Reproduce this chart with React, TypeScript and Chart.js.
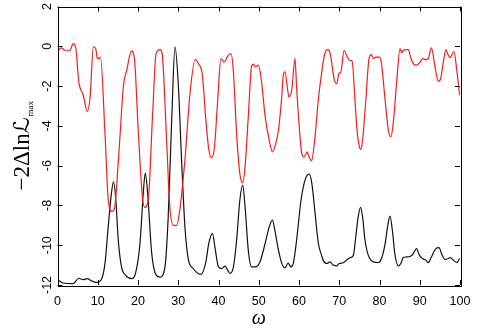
import React, { useEffect, useRef } from "react";
import { Chart, registerables } from "chart.js";

Chart.register(...registerables);

const xTickValues = [0, 10, 20, 30, 40, 50, 60, 70, 80, 90, 100];
const yTickValues = [-12, -10, -8, -6, -4, -2, 0, 2];
const xTitle = "ω";
const yTitleMain = "−2Δln";
const yTitleL = "ℒ";
const yTitleSub = "max";

const redOmega = [0.2, 0.9, 1.9, 3.1, 3.9, 4.5, 5.3, 6.4, 7.4, 8.1, 8.9, 9.5, 9.9, 10.7, 11.8, 12.6, 13.5, 14.1, 15.3, 16.4, 17.2, 18.4, 19.1, 20.1, 21.1, 21.7, 22.6, 23.6, 24.5, 25.5, 26.0, 27.1, 27.9, 28.8, 29.6, 30.4, 31.7, 32.9, 34.2, 35.0, 36.0, 36.8, 37.6, 38.3, 39.0, 39.8, 40.6, 41.4, 42.3, 43.1, 43.7, 44.5, 45.3, 46.0, 46.6, 47.4, 48.2, 48.7, 49.2, 49.9, 50.6, 51.6, 52.6, 53.4, 54.0, 54.9, 55.7, 56.1, 56.5, 57.2, 57.5, 58.2, 59.0, 59.4, 60.0, 60.7, 61.3, 62.0, 62.5, 63.1, 63.9, 64.8, 65.6, 66.3, 67.0, 67.5, 68.1, 68.7, 69.4, 69.9, 70.4, 71.2, 71.8, 72.5, 73.2, 73.9, 74.5, 75.0, 75.3, 75.8, 76.6, 77.4, 78.0, 78.5, 79.1, 80.1, 80.5, 81.4, 82.2, 82.8, 83.4, 84.3, 85.1, 85.5, 85.9, 86.6, 87.2, 87.7, 88.4, 89.2, 90.1, 90.7, 91.5, 92.1, 92.9, 93.8, 94.6, 95.2, 95.8, 96.5, 97.1, 97.6, 98.5, 99.2, 99.9];
const redValues = [-0.2, -0.08, -0.2, -0.2, 0.13, -0.03, -1.8, -2.46, -3.27, -2.55, -0.03, -0.12, -0.62, -0.57, -4.4, -7.7, -8.3, -8.2, -5.2, -1.96, -1.2, -0.23, -0.6, -4.4, -7.6, -8.1, -7.6, -3.55, -0.37, -0.17, -0.37, -4.7, -8.07, -9.0, -9.0, -8.2, -5.6, -2.4, -0.67, -0.87, -1.46, -3.55, -5.2, -5.6, -5.06, -2.7, -0.62, -0.79, -0.5, -0.37, -1.29, -4.39, -6.4, -6.87, -6.06, -3.55, -1.04, -0.9, -1.04, -0.95, -1.62, -3.55, -4.72, -5.31, -5.06, -4.22, -2.55, -1.46, -1.29, -2.21, -2.55, -2.21, -0.62, -2.04, -3.89, -5.4, -5.56, -5.31, -5.56, -5.76, -4.72, -2.7, -1.37, -0.45, -0.17, -0.2, -0.79, -1.62, -1.88, -1.37, -1.29, -0.2, -0.45, -0.7, -0.75, -2.71, -4.39, -5.06, -5.19, -4.72, -2.71, -0.62, -0.42, -0.62, -0.54, -0.54, -0.87, -2.71, -4.22, -4.56, -3.89, -1.71, -0.12, -0.33, -0.2, -0.17, -0.17, -0.54, -0.87, -0.95, -0.79, -0.62, -0.67, -0.62, -0.08, -1.04, -1.76, -1.62, -0.87, -0.17, -0.45, -0.57, -0.25, -1.21, -2.46];

const blackOmega = [0.2, 1.4, 3.9, 5.3, 6.4, 7.4, 8.5, 9.7, 11.0, 11.8, 12.6, 13.3, 13.9, 14.5, 15.1, 15.9, 16.9, 18.4, 19.4, 20.5, 21.3, 21.8, 22.4, 23.4, 24.5, 25.5, 26.7, 27.5, 28.4, 29.2, 30.0, 30.9, 31.7, 32.5, 33.7, 35.6, 36.8, 37.6, 38.5, 39.1, 40.0, 40.8, 41.6, 42.3, 42.9, 43.7, 44.5, 45.3, 46.0, 46.6, 47.4, 48.2, 49.1, 50.3, 51.6, 52.6, 53.4, 54.0, 54.9, 55.7, 56.5, 57.3, 58.0, 58.6, 59.4, 60.5, 61.5, 62.5, 63.2, 64.0, 64.8, 65.6, 66.0, 66.9, 67.7, 68.5, 69.4, 70.0, 71.0, 71.8, 72.8, 73.5, 74.2, 74.7, 75.3, 75.8, 76.4, 77.2, 78.5, 79.7, 80.5, 81.4, 82.0, 82.6, 83.2, 83.8, 84.7, 85.3, 85.9, 86.7, 87.7, 88.4, 89.2, 89.9, 90.7, 91.5, 92.1, 92.9, 94.0, 94.8, 95.4, 96.3, 97.1, 97.6, 98.3, 99.2, 99.9];
const blackValues = [-11.76, -11.9, -11.93, -11.66, -11.73, -11.68, -11.8, -11.87, -11.68, -10.9, -9.08, -7.57, -6.82, -7.74, -9.75, -11.09, -11.5, -11.68, -11.4, -9.9, -7.4, -6.37, -7.4, -10.4, -11.5, -11.6, -11.09, -8.6, -3.55, -0.03, -1.88, -6.06, -9.2, -10.7, -11.17, -11.47, -10.9, -9.9, -9.4, -10.08, -11.09, -11.17, -11.05, -11.26, -11.42, -11.09, -9.75, -7.74, -6.98, -8.07, -10.25, -11.09, -11.09, -10.84, -9.9, -9.08, -8.74, -9.25, -10.25, -10.9, -11.14, -10.9, -11.09, -10.9, -9.75, -7.74, -6.73, -6.43, -6.9, -8.4, -9.9, -10.5, -10.75, -10.92, -10.84, -11.0, -11.04, -10.92, -10.88, -10.75, -10.62, -10.5, -9.41, -8.58, -8.1, -8.58, -9.75, -10.5, -10.84, -10.87, -10.67, -9.92, -9.08, -8.54, -9.25, -10.42, -11.04, -10.92, -10.62, -10.59, -10.55, -10.42, -10.17, -10.5, -10.67, -10.75, -10.88, -10.59, -10.17, -10.12, -10.42, -10.72, -10.67, -10.62, -10.75, -10.87, -10.67];

const framePlugin = {
  id: "frame",
  afterDatasetsDraw(chart: any) {
    const { ctx, chartArea } = chart;
    const { left, right, top, bottom } = chartArea;
    const xs = chart.scales.x;
    const ys = chart.scales.y;
    ctx.save();
    ctx.strokeStyle = "#000";
    ctx.lineWidth = 1;
    ctx.beginPath();
    const tl = 5;
    xTickValues.forEach((v) => {
      const px = Math.round(xs.getPixelForValue(v)) + 0.5;
      ctx.moveTo(px, bottom);
      ctx.lineTo(px, bottom - tl);
      ctx.moveTo(px, top);
      ctx.lineTo(px, top + tl);
    });
    yTickValues.forEach((v) => {
      const py = Math.round(ys.getPixelForValue(v)) + 0.5;
      ctx.moveTo(left, py);
      ctx.lineTo(left + tl, py);
      ctx.moveTo(right, py);
      ctx.lineTo(right - tl, py);
    });
    ctx.stroke();
    ctx.strokeRect(Math.round(left) + 0.5, Math.round(top) + 0.5, Math.round(right - left), Math.round(bottom - top));

    // y axis title
    const cx = 22;
    const cy = (top + bottom) / 2;
    const mainFont = "23px 'Liberation Serif', 'DejaVu Serif', serif";
    const lFont = "italic 22px 'DejaVu Serif', 'DejaVu Sans', serif";
    const subFont = "9px 'Liberation Serif', serif";
    ctx.font = mainFont;
    const w1 = ctx.measureText(yTitleMain).width;
    ctx.font = lFont;
    const w2 = ctx.measureText(yTitleL).width;
    ctx.font = subFont;
    const w3 = ctx.measureText(yTitleSub).width;
    const total = w1 + w2 + 1 + w3;
    ctx.translate(cx, cy);
    ctx.rotate(-Math.PI / 2);
    ctx.fillStyle = "#000";
    ctx.textBaseline = "alphabetic";
    ctx.textAlign = "left";
    let x0 = -total / 2;
    const base = 7;
    ctx.font = mainFont;
    ctx.fillText(yTitleMain, x0, base);
    x0 += w1;
    ctx.font = lFont;
    ctx.fillText(yTitleL, x0, base);
    x0 += w2 + 1;
    ctx.font = subFont;
    ctx.fillText(yTitleSub, x0, base + 4);
    ctx.restore();
  },
};

export default function App() {
  const canvasRef = useRef<HTMLCanvasElement | null>(null);

  useEffect(() => {
    const canvas = canvasRef.current;
    if (!canvas) return;
    const chart = new Chart(canvas, {
      type: "line",
      data: {
        datasets: [
          {
            label: "red",
            data: redOmega.map((x, i) => ({ x, y: redValues[i] })),
            borderColor: "#ff1a1a",
            borderWidth: 1.2,
            pointRadius: 0,
            fill: false,
            cubicInterpolationMode: "monotone",
          },
          {
            label: "black",
            data: blackOmega.map((x, i) => ({ x, y: blackValues[i] })),
            borderColor: "#111111",
            borderWidth: 1.2,
            pointRadius: 0,
            fill: false,
            cubicInterpolationMode: "monotone",
          },
        ],
      },
      options: {
        animation: false,
        responsive: false,
        devicePixelRatio: 1,
        layout: { padding: { top: 6.5, right: 20, left: 0, bottom: 0 } },
        plugins: { legend: { display: false }, tooltip: { enabled: false } },
        scales: {
          x: {
            type: "linear",
            min: 0,
            max: 100,
            grid: { display: false },
            border: { display: false },
            afterFit: (s: any) => {
              s.height = 51;
            },
            afterBuildTicks: (s: any) => {
              s.ticks = xTickValues.map((v) => ({ value: v }));
            },
            ticks: {
              color: "#000",
              padding: 1,
              maxRotation: 0,
              minRotation: 0,
              font: { family: "'Liberation Sans', Arial, sans-serif", size: 12.5 },
            },
            title: {
              display: true,
              text: xTitle,
              color: "#000",
              padding: { top: 0, bottom: 5 },
              font: { family: "'Liberation Serif', serif", size: 20, style: "italic" },
            },
          },
          y: {
            type: "linear",
            min: -12,
            max: 2,
            grid: { display: false },
            border: { display: false },
            afterFit: (s: any) => {
              s.width = 57.5;
            },
            afterBuildTicks: (s: any) => {
              s.ticks = yTickValues.map((v) => ({ value: v }));
            },
            ticks: {
              color: "#000",
              padding: -7,
              minRotation: 90,
              maxRotation: 90,
              crossAlign: "center",
              font: { family: "'Liberation Sans', Arial, sans-serif", size: 12.5 },
            },
          },
        },
      },
      plugins: [framePlugin],
    } as any);
    return () => chart.destroy();
  }, []);

  return (
    <div style={{ position: "fixed", left: 0, top: 0, width: 480, height: 336, background: "#fff" }}>
      <canvas ref={canvasRef} width={480} height={336} />
    </div>
  );
}
